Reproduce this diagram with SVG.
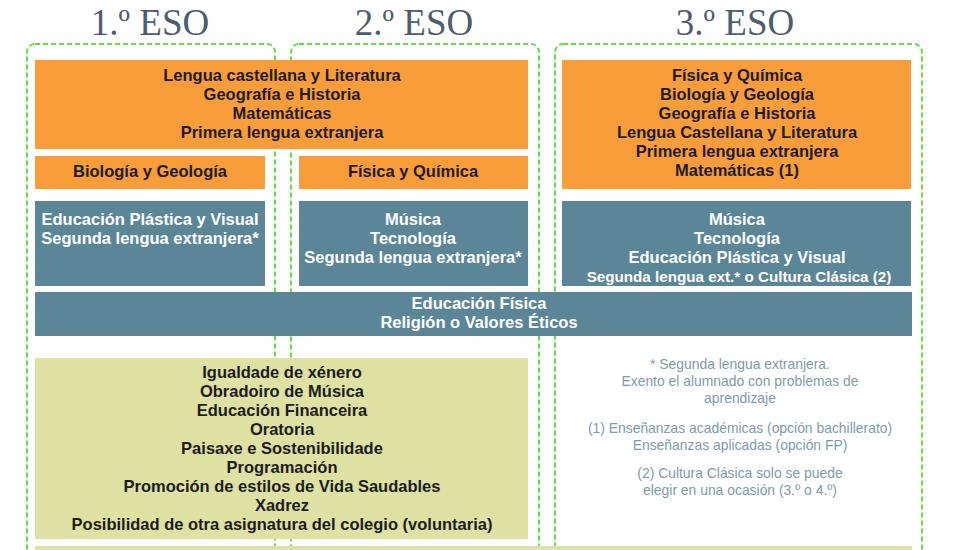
<svg xmlns="http://www.w3.org/2000/svg" width="980" height="550" viewBox="0 0 980 550">
<style>
.title{font-family:"Liberation Serif",serif;font-size:37px;fill:#4b5d6e;text-anchor:middle}
.frame{fill:none;stroke:#5fe03a;stroke-width:2;stroke-dasharray:5 3}
.or{fill:#f99d3b}
.bl{fill:#5b8697}
.gr{fill:#dfe1a3}
.t{font-family:"Liberation Sans",Arial,sans-serif;font-weight:bold;font-size:16.5px;text-anchor:middle;dominant-baseline:central}
.dk{fill:#1c1c1c}
.wh{fill:#ffffff}
.note{font-family:"Liberation Sans",Arial,sans-serif;font-size:13.9px;fill:#7d9ba7;text-anchor:middle;dominant-baseline:central}
</style>
<rect width="980" height="550" fill="#ffffff"/>
<g id="titles">
<text class="title" x="150" y="35">1.º ESO</text>
<text class="title" x="414" y="35">2.º ESO</text>
<text class="title" x="735" y="35">3.º ESO</text>
</g>
<g id="frames">
<rect class="frame" x="27" y="44" width="248" height="530" rx="8"/>
<rect class="frame" x="291" y="44" width="248" height="530" rx="8"/>
<rect class="frame" x="555" y="44" width="367" height="530" rx="8"/>
</g>
<g id="core12">
<rect class="or" x="35" y="60" width="493" height="89"/>
<text class="t dk" x="282" y="75">Lengua castellana y Literatura</text>
<text class="t dk" x="282" y="94">Geografía e Historia</text>
<text class="t dk" x="282" y="113">Matemáticas</text>
<text class="t dk" x="282" y="132">Primera lengua extranjera</text>
</g>
<g id="bio1">
<rect class="or" x="35" y="156" width="230" height="33"/>
<text class="t dk" x="150" y="171">Biología y Geología</text>
</g>
<g id="fq2">
<rect class="or" x="299" y="156" width="229" height="33"/>
<text class="t dk" x="413" y="171">Física y Química</text>
</g>
<g id="core3">
<rect class="or" x="562" y="60" width="349" height="129"/>
<text class="t dk" x="737" y="75">Física y Química</text>
<text class="t dk" x="737" y="94">Biología y Geología</text>
<text class="t dk" x="737" y="113">Geografía e Historia</text>
<text class="t dk" x="737" y="132">Lengua Castellana y Literatura</text>
<text class="t dk" x="737" y="151">Primera lengua extranjera</text>
<text class="t dk" x="737" y="170">Matemáticas (1)</text>
</g>
<g id="spec1">
<rect class="bl" x="35" y="201" width="230" height="85"/>
<text class="t wh" x="150" y="219">Educación Plástica y Visual</text>
<text class="t wh" x="150" y="238">Segunda lengua extranjera*</text>
</g>
<g id="spec2">
<rect class="bl" x="299" y="201" width="229" height="85"/>
<text class="t wh" x="413" y="219">Música</text>
<text class="t wh" x="413" y="238">Tecnología</text>
<text class="t wh" x="413" y="257">Segunda lengua extranjera*</text>
</g>
<g id="spec3">
<rect class="bl" x="562" y="201" width="349" height="85"/>
<text class="t wh" x="737" y="219">Música</text>
<text class="t wh" x="737" y="238">Tecnología</text>
<text class="t wh" x="737" y="257">Educación Plástica y Visual</text>
<text class="t wh" x="739" y="276" style="font-size:15.2px">Segunda lengua ext.* o Cultura Clásica (2)</text>
</g>
<g id="common">
<rect class="bl" x="35" y="292" width="877" height="44"/>
<text class="t wh" x="479" y="303">Educación Física</text>
<text class="t wh" x="479" y="322">Religión o Valores Éticos</text>
</g>
<g id="free12">
<rect class="gr" x="35" y="358" width="493" height="181"/>
<text class="t dk" x="282" y="372">Igualdade de xénero</text>
<text class="t dk" x="282" y="391">Obradoiro de Música</text>
<text class="t dk" x="282" y="410">Educación Financeira</text>
<text class="t dk" x="282" y="429">Oratoria</text>
<text class="t dk" x="282" y="448">Paisaxe e Sostenibilidade</text>
<text class="t dk" x="282" y="467">Programación</text>
<text class="t dk" x="282" y="486">Promoción de estilos de Vida Saudables</text>
<text class="t dk" x="282" y="505">Xadrez</text>
<text class="t dk" x="282" y="524">Posibilidad de otra asignatura del colegio (voluntaria)</text>
</g>
<g id="notes">
<text class="note" x="740" y="364">* Segunda lengua extranjera.</text>
<text class="note" x="740" y="381">Exento el alumnado con problemas de</text>
<text class="note" x="740" y="398">aprendizaje</text>
<text class="note" x="740" y="428">(1) Enseñanzas académicas (opción bachillerato)</text>
<text class="note" x="740" y="445">Enseñanzas aplicadas (opción FP)</text>
<text class="note" x="740" y="473">(2) Cultura Clásica solo se puede</text>
<text class="note" x="740" y="490">elegir en una ocasión (3.º o 4.º)</text>
</g>
<g id="bottom">
<rect class="gr" x="35" y="546" width="877" height="10"/>
</g>
<g id="connectors"/>
</svg>
